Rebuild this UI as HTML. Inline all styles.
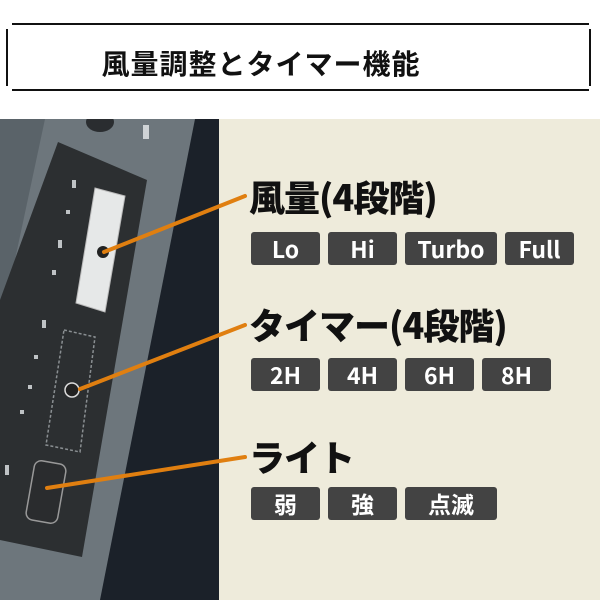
<!DOCTYPE html>
<html><head><meta charset="utf-8"><style>
body{margin:0;width:600px;height:600px;overflow:hidden;background:#fff;position:relative;font-family:"Liberation Sans","Noto Sans CJK JP",sans-serif}
.abs{position:absolute}
.title{left:0;width:522px;top:41px;text-align:center;font-size:28px;font-weight:bold;letter-spacing:1px;color:#111;line-height:44px;font-family:"Noto Sans CJK JP",sans-serif}
.h{position:absolute;left:249px;font-weight:900;color:#111;font-size:36px;line-height:42px;font-family:"Noto Sans CJK JP",sans-serif;letter-spacing:-1px}
.b{position:absolute;height:33px;background:#434343;border-radius:3px;color:#fff;font-weight:bold;font-size:23px;line-height:33px;text-align:center;font-family:"Noto Sans CJK JP",sans-serif}
</style></head><body>
<div class="abs" style="left:12px;top:23px;width:577px;height:2px;background:#111"></div>
<div class="abs" style="left:12px;top:89px;width:577px;height:2px;background:#111"></div>
<div class="abs" style="left:6px;top:29px;width:2px;height:57px;background:#111"></div>
<div class="abs" style="left:589px;top:29px;width:2px;height:57px;background:#111"></div>
<div class="abs title">風量調整とタイマー機能</div>
<div class="abs" style="left:218px;top:119px;width:382px;height:481px;background:#eeebdb"></div>
<svg class="abs" style="left:0;top:119px" width="600" height="481" viewBox="0 119 600 481">
<rect x="0" y="119" width="219" height="481" fill="#1b2129"/>
<polygon points="0,119 195,119 100,600 0,600" fill="#6d767c"/>
<polygon points="0,119 45,119 0,330" fill="#5a6369"/>
<polygon points="58,142 147,180 82,557 0,540 0,300" fill="#2c2f31"/>
<ellipse cx="100" cy="122" rx="14" ry="10" fill="#2a2d30"/>
<rect x="143" y="125" width="6" height="14" fill="#cfd3d6"/>
<polygon points="95,188 125,196 105,312 76,303" fill="#e6e8e8" stroke="#bbb"/>
<circle cx="103" cy="252" r="6" fill="#222"/>
<polygon points="64,330 95,337 80,452 46,445" fill="none" stroke="#8a8f92" stroke-width="1.5" stroke-dasharray="3,2"/>
<circle cx="72" cy="390" r="7" fill="#222" stroke="#ddd" stroke-width="1.5"/>
<rect x="30" y="462" width="32" height="60" rx="7" fill="#2a2c2e" stroke="#999" stroke-width="1.5" transform="rotate(10 46 492)"/>
<g fill="#bfc3c5">
<rect x="72" y="180" width="4" height="8"/><rect x="66" y="210" width="4" height="4"/><rect x="58" y="240" width="4" height="8"/><rect x="52" y="270" width="4" height="5"/>
<rect x="42" y="320" width="4" height="8"/><rect x="34" y="355" width="4" height="4"/><rect x="28" y="385" width="4" height="4"/><rect x="20" y="410" width="4" height="4"/><rect x="5" y="465" width="4" height="10"/>
</g>
<g stroke="#e07f10" stroke-width="4" stroke-linecap="round">
<line x1="104" y1="252" x2="245" y2="196"/>
<line x1="80" y1="389" x2="245" y2="325"/>
<line x1="47" y1="488" x2="245" y2="457"/>
</g>
</svg>
<div class="h" style="top:175px">風量(4段階)</div>
<div class="h" style="top:303px">タイマー(4段階)</div>
<div class="h" style="top:435px">ライト</div>
<div class="b" style="left:251px;top:232px;width:69px">Lo</div>
<div class="b" style="left:328px;top:232px;width:69px">Hi</div>
<div class="b" style="left:405px;top:232px;width:92px">Turbo</div>
<div class="b" style="left:505px;top:232px;width:69px">Full</div>
<div class="b" style="left:251px;top:358px;width:69px">2H</div>
<div class="b" style="left:328px;top:358px;width:69px">4H</div>
<div class="b" style="left:405px;top:358px;width:69px">6H</div>
<div class="b" style="left:482px;top:358px;width:69px">8H</div>
<div class="b" style="left:251px;top:487px;width:69px">弱</div>
<div class="b" style="left:328px;top:487px;width:69px">強</div>
<div class="b" style="left:405px;top:487px;width:92px">点滅</div>
</body></html>
